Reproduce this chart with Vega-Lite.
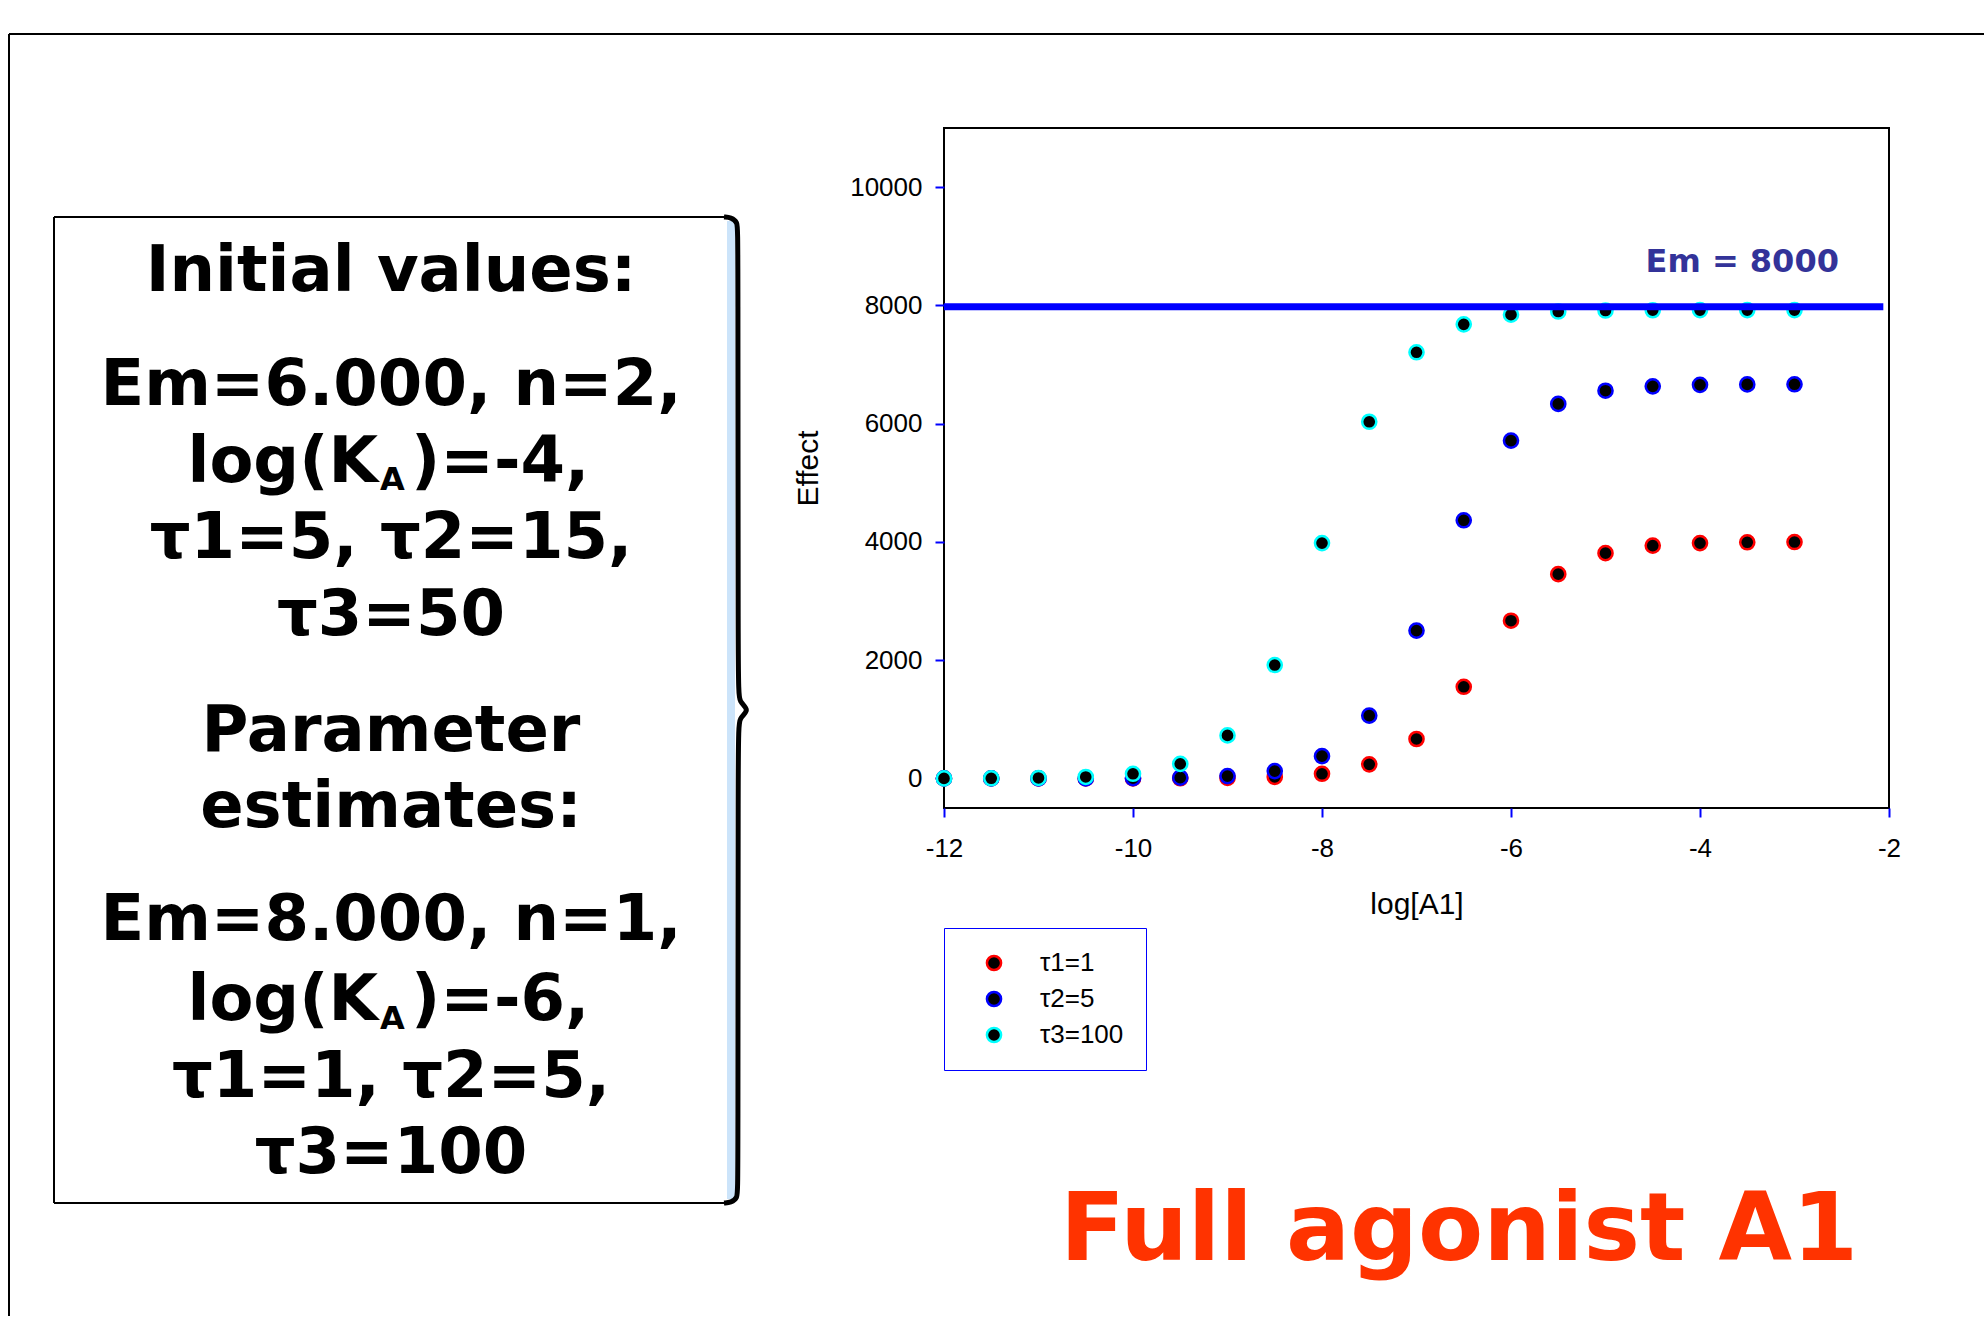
{
  "$schema": "https://vega.github.io/schema/vega-lite/v6.json",
  "background": "white",
  "padding": {"left": 8, "top": 33, "right": 0, "bottom": 0},
  "bounds": "flush",
  "spacing": 0,
  "config": {"view": {"stroke": null}},
  "datasets": {
    "pts": [
      {"logA": -12, "effect": 0, "series": "τ1=1"},
      {"logA": -11.5, "effect": 0, "series": "τ1=1"},
      {"logA": -11, "effect": 0, "series": "τ1=1"},
      {"logA": -10.5, "effect": 0, "series": "τ1=1"},
      {"logA": -10, "effect": 1, "series": "τ1=1"},
      {"logA": -9.5, "effect": 3, "series": "τ1=1"},
      {"logA": -9, "effect": 8, "series": "τ1=1"},
      {"logA": -8.5, "effect": 25, "series": "τ1=1"},
      {"logA": -8, "effect": 79, "series": "τ1=1"},
      {"logA": -7.5, "effect": 238, "series": "τ1=1"},
      {"logA": -7, "effect": 667, "series": "τ1=1"},
      {"logA": -6.5, "effect": 1550, "series": "τ1=1"},
      {"logA": -6, "effect": 2667, "series": "τ1=1"},
      {"logA": -5.5, "effect": 3455, "series": "τ1=1"},
      {"logA": -5, "effect": 3810, "series": "τ1=1"},
      {"logA": -4.5, "effect": 3938, "series": "τ1=1"},
      {"logA": -4, "effect": 3980, "series": "τ1=1"},
      {"logA": -3.5, "effect": 3994, "series": "τ1=1"},
      {"logA": -3, "effect": 3998, "series": "τ1=1"},
      {"logA": -12, "effect": 0, "series": "τ2=5"},
      {"logA": -11.5, "effect": 0, "series": "τ2=5"},
      {"logA": -11, "effect": 1, "series": "τ2=5"},
      {"logA": -10.5, "effect": 1, "series": "τ2=5"},
      {"logA": -10, "effect": 4, "series": "τ2=5"},
      {"logA": -9.5, "effect": 13, "series": "τ2=5"},
      {"logA": -9, "effect": 40, "series": "τ2=5"},
      {"logA": -8.5, "effect": 124, "series": "τ2=5"},
      {"logA": -8, "effect": 377, "series": "τ2=5"},
      {"logA": -7.5, "effect": 1063, "series": "τ2=5"},
      {"logA": -7, "effect": 2500, "series": "τ2=5"},
      {"logA": -6.5, "effect": 4366, "series": "τ2=5"},
      {"logA": -6, "effect": 5714, "series": "τ2=5"},
      {"logA": -5.5, "effect": 6334, "series": "τ2=5"},
      {"logA": -5, "effect": 6557, "series": "τ2=5"},
      {"logA": -4.5, "effect": 6631, "series": "τ2=5"},
      {"logA": -4, "effect": 6656, "series": "τ2=5"},
      {"logA": -3.5, "effect": 6664, "series": "τ2=5"},
      {"logA": -3, "effect": 6666, "series": "τ2=5"},
      {"logA": -12, "effect": 1, "series": "τ3=100"},
      {"logA": -11.5, "effect": 3, "series": "τ3=100"},
      {"logA": -11, "effect": 8, "series": "τ3=100"},
      {"logA": -10.5, "effect": 25, "series": "τ3=100"},
      {"logA": -10, "effect": 79, "series": "τ3=100"},
      {"logA": -9.5, "effect": 245, "series": "τ3=100"},
      {"logA": -9, "effect": 727, "series": "τ3=100"},
      {"logA": -8.5, "effect": 1918, "series": "τ3=100"},
      {"logA": -8, "effect": 3980, "series": "τ3=100"},
      {"logA": -7.5, "effect": 6032, "series": "τ3=100"},
      {"logA": -7, "effect": 7207, "series": "τ3=100"},
      {"logA": -6.5, "effect": 7680, "series": "τ3=100"},
      {"logA": -6, "effect": 7843, "series": "τ3=100"},
      {"logA": -5.5, "effect": 7896, "series": "τ3=100"},
      {"logA": -5, "effect": 7913, "series": "τ3=100"},
      {"logA": -4.5, "effect": 7918, "series": "τ3=100"},
      {"logA": -4, "effect": 7920, "series": "τ3=100"},
      {"logA": -3.5, "effect": 7920, "series": "τ3=100"},
      {"logA": -3, "effect": 7921, "series": "τ3=100"}
    ],
    "emline": [{"x1": -12, "x2": -2.06, "em": 7975, "label": "Em = 8000", "lx": -2.53, "ly": 8565}],
    "strip": [{"sx": 727, "sx2": 735, "sy": 221, "sy2": 1199}],
    "lines": [
      {"sx": 9, "sy": 34, "sx2": 1984, "sy2": 34},
      {"sx": 9, "sy": 34, "sx2": 9, "sy2": 1316},
      {"sx": 54, "sy": 217, "sx2": 726, "sy2": 217},
      {"sx": 54, "sy": 217, "sx2": 54, "sy2": 1203},
      {"sx": 54, "sy": 1203, "sx2": 726, "sy2": 1203}
    ],
    "brace": [
      {"i": 0, "sx": 724, "sy": 217},
      {"i": 1, "sx": 731, "sy": 217.5},
      {"i": 2, "sx": 737.5, "sy": 222},
      {"i": 3, "sx": 738, "sy": 232},
      {"i": 4, "sx": 738, "sy": 690},
      {"i": 5, "sx": 739, "sy": 702},
      {"i": 6, "sx": 750, "sy": 710},
      {"i": 7, "sx": 739, "sy": 718},
      {"i": 8, "sx": 738, "sy": 730},
      {"i": 9, "sx": 738, "sy": 1188},
      {"i": 10, "sx": 737.5, "sy": 1198},
      {"i": 11, "sx": 731, "sy": 1202.5},
      {"i": 12, "sx": 724, "sy": 1203}
    ],
    "centerText": [
      {"sx": 391, "sy": 291, "t": "Initial values:"},
      {"sx": 391, "sy": 405, "t": "Em=6.000, n=2,"},
      {"sx": 391, "sy": 558, "t": "τ1=5, τ2=15,"},
      {"sx": 391, "sy": 635, "t": "τ3=50"},
      {"sx": 391, "sy": 751, "t": "Parameter"},
      {"sx": 391, "sy": 827, "t": "estimates:"},
      {"sx": 391, "sy": 940, "t": "Em=8.000, n=1,"},
      {"sx": 391, "sy": 1097, "t": "τ1=1, τ2=5,"},
      {"sx": 391, "sy": 1173, "t": "τ3=100"}
    ],
    "rightText": [
      {"sx": 378, "sy": 482, "t": "log(K"},
      {"sx": 378, "sy": 1020, "t": "log(K"}
    ],
    "subText": [
      {"sx": 380, "sy": 490, "t": "A"},
      {"sx": 380, "sy": 1029, "t": "A"}
    ],
    "leftText": [
      {"sx": 411, "sy": 482, "t": ")=-4,"},
      {"sx": 411, "sy": 1020, "t": ")=-6,"}
    ]
  },
  "hconcat": [
    {
      "width": 935,
      "height": 1188,
      "view": {"stroke": null},
      "encoding": {
        "x": {"field": "sx", "type": "quantitative", "scale": {"domain": [9, 944], "nice": false, "zero": false}, "axis": null},
        "y": {"field": "sy", "type": "quantitative", "scale": {"domain": [128, 1316], "reverse": true, "nice": false, "zero": false}, "axis": null}
      },
      "layer": [
        {
          "data": {"name": "strip"},
          "mark": {"type": "rect", "fill": "#cce4fa"},
          "encoding": {"x2": {"field": "sx2"}, "y2": {"field": "sy2"}}
        },
        {
          "data": {"name": "lines"},
          "mark": {"type": "rule", "color": "black", "strokeWidth": 2},
          "encoding": {"x2": {"field": "sx2"}, "y2": {"field": "sy2"}}
        },
        {
          "data": {"name": "brace"},
          "mark": {"type": "line", "color": "black", "strokeWidth": 5, "interpolate": "basis"},
          "encoding": {"order": {"field": "i", "type": "quantitative"}}
        },
        {
          "data": {"name": "centerText"},
          "mark": {"type": "text", "align": "center", "baseline": "alphabetic", "font": "DejaVu Sans", "fontWeight": "bold", "fontSize": 64, "color": "black"},
          "encoding": {"text": {"field": "t"}}
        },
        {
          "data": {"name": "rightText"},
          "mark": {"type": "text", "align": "right", "baseline": "alphabetic", "font": "DejaVu Sans", "fontWeight": "bold", "fontSize": 64, "color": "black"},
          "encoding": {"text": {"field": "t"}}
        },
        {
          "data": {"name": "subText"},
          "mark": {"type": "text", "align": "left", "baseline": "alphabetic", "font": "DejaVu Sans", "fontWeight": "bold", "fontSize": 32, "color": "black"},
          "encoding": {"text": {"field": "t"}}
        },
        {
          "data": {"name": "leftText"},
          "mark": {"type": "text", "align": "left", "baseline": "alphabetic", "font": "DejaVu Sans", "fontWeight": "bold", "fontSize": 64, "color": "black"},
          "encoding": {"text": {"field": "t"}}
        }
      ]
    },
    {
      "width": 945,
      "height": 680,
      "view": {"stroke": "black", "strokeWidth": 2},
      "title": {
        "text": "Full agonist A1",
        "orient": "bottom",
        "anchor": "start",
        "frame": "group",
        "dx": 116,
        "offset": 266,
        "font": "DejaVu Sans",
        "fontSize": 95,
        "fontWeight": "bold",
        "color": "#ff3300"
      },
      "layer": [
        {
          "data": {"name": "pts"},
          "mark": {"type": "point", "shape": "circle", "filled": true, "fill": "black", "opacity": 1, "fillOpacity": 1, "strokeWidth": 2.5, "size": 200},
          "encoding": {
            "x": {
              "field": "logA", "type": "quantitative",
              "scale": {"domain": [-12, -2], "nice": false, "zero": false},
              "axis": {
                "values": [-12, -10, -8, -6, -4, -2],
                "labelExpr": "'' + datum.value",
                "labelFlush": false,
                "domain": false, "grid": false,
                "tickColor": "#0000ff", "tickSize": 9, "tickWidth": 2,
                "labelFont": "Liberation Sans", "labelFontSize": 26, "labelColor": "black", "labelPadding": 18,
                "title": "log[A1]", "titleFont": "Liberation Sans", "titleFontSize": 30, "titleFontWeight": "normal", "titleColor": "black", "titlePadding": 28
              }
            },
            "y": {
              "field": "effect", "type": "quantitative",
              "scale": {"domain": [-500, 11000], "nice": false, "zero": false},
              "axis": {
                "values": [0, 2000, 4000, 6000, 8000, 10000],
                "labelExpr": "'' + datum.value",
                "labelFlush": false,
                "domain": false, "grid": false,
                "tickColor": "#0000ff", "tickSize": 9, "tickWidth": 2,
                "labelFont": "Liberation Sans", "labelFontSize": 26, "labelColor": "black", "labelPadding": 13,
                "title": "Effect", "titleFont": "Liberation Sans", "titleFontSize": 30, "titleFontWeight": "normal", "titleColor": "black", "titlePadding": 26
              }
            },
            "stroke": {
              "field": "series", "type": "nominal",
              "scale": {"domain": ["τ1=1", "τ2=5", "τ3=100"], "range": ["#ff0000", "#0000ff", "#00ffff"]},
              "legend": {
                "title": null,
                "orient": "none",
                "legendX": 935,
                "legendY": 800,
                "direction": "vertical",
                "strokeColor": "#0000ff",
                "fillColor": "white",
                "padding": 22,
                "rowPadding": 10,
                "symbolType": "circle",
                "symbolSize": 200,
                "symbolStrokeWidth": 2.5,
                "symbolFillColor": "black",
                "symbolOffset": 15,
                "labelOffset": 33,
                "labelFont": "Liberation Sans",
                "labelFontSize": 26,
                "labelColor": "black",
                "encode": {
                  "legend": {"update": {"strokeWidth": {"value": 2}}},
                  "symbols": {"update": {"fill": {"value": "black"}, "fillOpacity": {"value": 1}, "opacity": {"value": 1}}}
                }
              }
            }
          }
        },
        {
          "data": {"name": "emline"},
          "mark": {"type": "rule", "color": "#0000ff", "strokeWidth": 7},
          "encoding": {
            "x": {"field": "x1", "type": "quantitative"},
            "x2": {"field": "x2"},
            "y": {"field": "em", "type": "quantitative"}
          }
        },
        {
          "data": {"name": "emline"},
          "mark": {"type": "text", "align": "right", "baseline": "alphabetic", "font": "DejaVu Sans", "fontWeight": "bold", "fontSize": 32, "color": "#333399"},
          "encoding": {
            "x": {"field": "lx", "type": "quantitative"},
            "y": {"field": "ly", "type": "quantitative"},
            "text": {"field": "label"}
          }
        }
      ]
    }
  ]
}
